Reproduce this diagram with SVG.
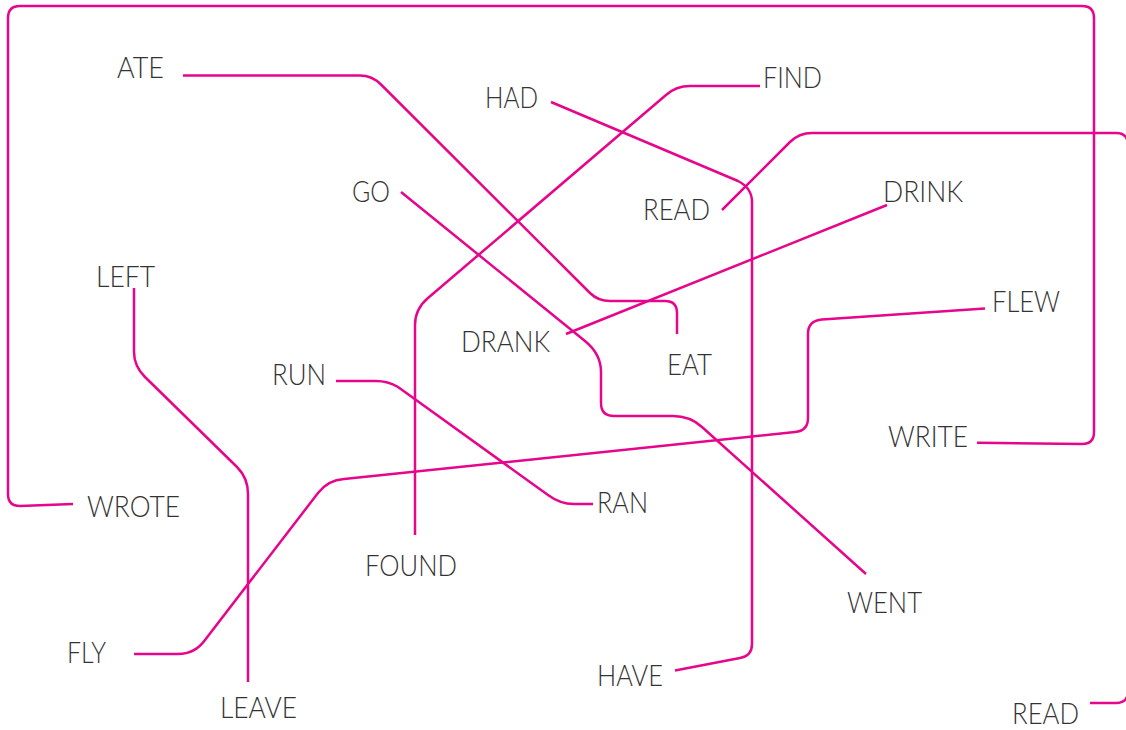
<svg xmlns="http://www.w3.org/2000/svg" width="1126" height="730" viewBox="0 0 1126 730">
<style>
.c{fill:none;stroke:#e6058b;stroke-width:2.5;stroke-linejoin:round;stroke-linecap:butt}
.t{font-family:Lato,"Open Sans","Liberation Sans",sans-serif;font-weight:300;font-size:28.5px;fill:#333333}
</style>
<rect width="1126" height="730" fill="#ffffff"/>
<g id="connectors">
<path class="c" d="M977,442.7 L1082,444 Q1094,444 1094,432 L1094,18 Q1094,6 1082,6 L20,6 Q8,6 8,18 L8,494 Q8,506 20,506 L73,504"/>
<path class="c" d="M183,75.5 L360,75.5 Q372,75.5 381,84.5 L590,293 Q598,301 610,301 L665,301 Q677,301 677,313 L677,334"/>
<path class="c" d="M551,102 L738,181 Q752,188 752,202 L752,644 Q752,656 740,658 L675,670.5"/>
<path class="c" d="M760,86 L690,86 Q676,86 666,95 L428,298 Q415,309 415,325 L415,535"/>
<path class="c" d="M401,192 L585,341 Q601,354 601,372 L601,403 Q601,416 614,416 L673,416 Q690,416 702,427 L866,574"/>
<path class="c" d="M887,205 L566,334"/>
<path class="c" d="M722,210 L790,142 Q799,133 812,133 L1116,133 Q1128,133 1128,145 L1128,691 Q1128,703 1116,703 L1090,703"/>
<path class="c" d="M134,288 L134,352 Q134,366 145,377 L237,467 Q248,478 248,494 L248,682"/>
<path class="c" d="M336,381 L376,381 Q388,381 398,387 L548,495 Q560,504 574,504 L593,504"/>
<path class="c" d="M985,308.5 L822,319.5 Q808,320.5 808,334 L808,418 Q808,431 795,432 L344,479 Q328,480 318,493 L205,640 Q195,654 178,654 L134,654"/>
</g>
<g id="n-ate"><text class="t" x="117" y="78" textLength="47" lengthAdjust="spacingAndGlyphs">ATE</text></g>
<g id="n-had"><text class="t" x="485" y="108" textLength="53" lengthAdjust="spacingAndGlyphs">HAD</text></g>
<g id="n-find"><text class="t" x="763" y="88" textLength="59" lengthAdjust="spacingAndGlyphs">FIND</text></g>
<g id="n-go"><text class="t" x="352" y="202" textLength="38" lengthAdjust="spacingAndGlyphs">GO</text></g>
<g id="n-read1"><text class="t" x="643" y="220" textLength="67" lengthAdjust="spacingAndGlyphs">READ</text></g>
<g id="n-drink"><text class="t" x="883" y="202" textLength="80" lengthAdjust="spacingAndGlyphs">DRINK</text></g>
<g id="n-left"><text class="t" x="96" y="287" textLength="59" lengthAdjust="spacingAndGlyphs">LEFT</text></g>
<g id="n-run"><text class="t" x="272" y="385" textLength="54" lengthAdjust="spacingAndGlyphs">RUN</text></g>
<g id="n-drank"><text class="t" x="461" y="352" textLength="89" lengthAdjust="spacingAndGlyphs">DRANK</text></g>
<g id="n-eat"><text class="t" x="667" y="375" textLength="45" lengthAdjust="spacingAndGlyphs">EAT</text></g>
<g id="n-flew"><text class="t" x="992" y="312" textLength="68" lengthAdjust="spacingAndGlyphs">FLEW</text></g>
<g id="n-write"><text class="t" x="888" y="447" textLength="80" lengthAdjust="spacingAndGlyphs">WRITE</text></g>
<g id="n-wrote"><text class="t" x="87" y="517" textLength="93" lengthAdjust="spacingAndGlyphs">WROTE</text></g>
<g id="n-ran"><text class="t" x="597" y="513" textLength="51" lengthAdjust="spacingAndGlyphs">RAN</text></g>
<g id="n-found"><text class="t" x="365" y="576" textLength="92" lengthAdjust="spacingAndGlyphs">FOUND</text></g>
<g id="n-went"><text class="t" x="847" y="613" textLength="75" lengthAdjust="spacingAndGlyphs">WENT</text></g>
<g id="n-fly"><text class="t" x="67" y="663" textLength="39" lengthAdjust="spacingAndGlyphs">FLY</text></g>
<g id="n-leave"><text class="t" x="220" y="718" textLength="77" lengthAdjust="spacingAndGlyphs">LEAVE</text></g>
<g id="n-have"><text class="t" x="597" y="686" textLength="66" lengthAdjust="spacingAndGlyphs">HAVE</text></g>
<g id="n-read2"><text class="t" x="1012" y="724" textLength="67" lengthAdjust="spacingAndGlyphs">READ</text></g>
</svg>
